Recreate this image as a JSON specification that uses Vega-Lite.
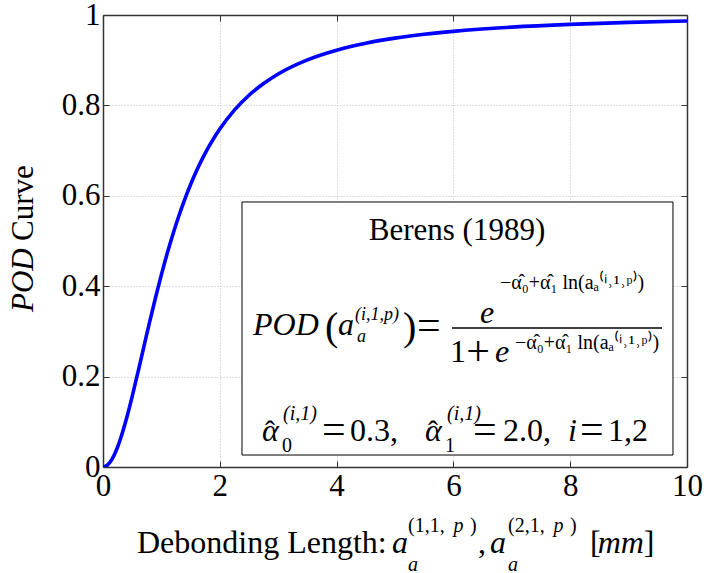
{
  "$schema": "https://vega.github.io/schema/vega-lite/v6.json",
  "width": 584,
  "height": 452,
  "autosize": {"type": "none"},
  "padding": {"left": 103, "top": 15, "right": 17, "bottom": 106},
  "background": "white",
  "config": {
    "view": {"stroke": null},
    "text": {"font": "Liberation Serif", "color": "black"},
    "axis": {
      "domainColor": "#333333", "domainWidth": 1.5,
      "tickColor": "#333333", "tickWidth": 1, "tickSize": -6,
      "labelFont": "Liberation Serif", "labelFontSize": 30, "labelColor": "black",
      "labelFlush": false, "labelOverlap": false,
      "gridColor": "#bdbdbd", "gridDash": [1, 2], "gridWidth": 1
    }
  },
  "datasets": {
    "curve": [
      {"x": 0, "y": 0}, {"x": 0.05, "y": 0.00185}, {"x": 0.1, "y": 0.00735}, {"x": 0.15, "y": 0.0164},
      {"x": 0.2, "y": 0.02878}, {"x": 0.25, "y": 0.04425}, {"x": 0.3, "y": 0.0625}, {"x": 0.4, "y": 0.10597},
      {"x": 0.5, "y": 0.15626}, {"x": 0.6, "y": 0.21057}, {"x": 0.7, "y": 0.26633}, {"x": 0.8, "y": 0.32163},
      {"x": 0.9, "y": 0.37503}, {"x": 1.0, "y": 0.42556}, {"x": 1.1, "y": 0.47268}, {"x": 1.2, "y": 0.5161},
      {"x": 1.3, "y": 0.55595}, {"x": 1.4, "y": 0.59217}, {"x": 1.5, "y": 0.62502}, {"x": 1.6, "y": 0.65474},
      {"x": 1.7, "y": 0.68163}, {"x": 1.8, "y": 0.7059}, {"x": 1.9, "y": 0.72785}, {"x": 2.0, "y": 0.74768},
      {"x": 2.25, "y": 0.78949}, {"x": 2.5, "y": 0.82239}, {"x": 2.75, "y": 0.84854}, {"x": 3.0, "y": 0.86958},
      {"x": 3.5, "y": 0.90075}, {"x": 4.0, "y": 0.9222}, {"x": 4.5, "y": 0.93751}, {"x": 5.0, "y": 0.94878},
      {"x": 5.5, "y": 0.95728}, {"x": 6.0, "y": 0.96386}, {"x": 7.0, "y": 0.97319}, {"x": 8.0, "y": 0.97934},
      {"x": 9.0, "y": 0.98361}, {"x": 10.0, "y": 0.98668}
    ],
    "box": [{"x": 2.38, "x2": 9.76, "y": 0.0265, "y2": 0.5863}],
    "frac": [{"x": 5.976, "x2": 9.572, "y": 0.3075}],
    "berens": [{"x": 6.062, "y": 0.502, "t": "Berens (1989)"}],
    "bigItalic": [
      {"x": 2.568, "y": 0.292, "t": "POD"},
      {"x": 4.024, "y": 0.292, "t": "a"},
      {"x": 6.455, "y": 0.3186, "t": "e"},
      {"x": 6.712, "y": 0.2323, "t": "e"},
      {"x": 2.723, "y": 0.0575, "t": "α"},
      {"x": 5.514, "y": 0.0575, "t": "α"},
      {"x": 7.962, "y": 0.0575, "t": "i"}
    ],
    "hats": [
      {"x": 2.86, "y": 0.0575, "t": "ˆ"},
      {"x": 5.65, "y": 0.0575, "t": "ˆ"}
    ],
    "bigNormal": [
      {"x": 5.942, "y": 0.2323, "t": "1"},
      {"x": 4.229, "y": 0.0575, "t": "0.3,"},
      {"x": 6.849, "y": 0.0575, "t": "2.0,"},
      {"x": 8.647, "y": 0.0575, "t": "1,2"}
    ],
    "eqSigns": [
      {"x": 5.377, "y": 0.2832, "t": "="},
      {"x": 3.75, "y": 0.0531, "t": "="},
      {"x": 6.336, "y": 0.0531, "t": "="},
      {"x": 8.168, "y": 0.0531, "t": "="},
      {"x": 6.22, "y": 0.225, "t": "+"}
    ],
    "paren": [
      {"x": 3.801, "y": 0.281, "t": "("},
      {"x": 5.137, "y": 0.281, "t": ")"}
    ],
    "supFormula": [
      {"x": 4.315, "y": 0.3252, "t": "(i,1,p)"},
      {"x": 4.349, "y": 0.2765, "t": "a"}
    ],
    "exponent": [
      {"x": 6.798, "y": 0.394, "t": "−α̂₀+α̂₁ ln(aₐ⁽ⁱ˒¹˒ᵖ⁾)"},
      {"x": 7.055, "y": 0.262, "t": "−α̂₀+α̂₁ ln(aₐ⁽ⁱ˒¹˒ᵖ⁾)"}
    ],
    "bottomSub": [
      {"x": 3.065, "y": 0.0332, "t": "0"},
      {"x": 5.856, "y": 0.0332, "t": "1"}
    ],
    "bottomSup": [
      {"x": 3.082, "y": 0.104, "t": "(i,1)"},
      {"x": 5.89, "y": 0.104, "t": "(i,1)"}
    ],
    "xTitleNormal": [
      {"x": 0.582, "y": -0.1903, "t": "Debonding Length:"},
      {"x": 6.421, "y": -0.1903, "t": ","},
      {"x": 8.339, "y": -0.1903, "t": "["},
      {"x": 9.26, "y": -0.1903, "t": "]"}
    ],
    "xTitleItalic": [
      {"x": 4.949, "y": -0.1903, "t": "a"},
      {"x": 6.627, "y": -0.1903, "t": "a"},
      {"x": 8.47, "y": -0.1903, "t": "mm"}
    ],
    "xTitleSmallNormal": [
      {"x": 5.223, "y": -0.1438, "t": "(1,1,"},
      {"x": 6.284, "y": -0.1438, "t": ")"},
      {"x": 6.935, "y": -0.1438, "t": "(2,1,"},
      {"x": 7.997, "y": -0.1438, "t": ")"}
    ],
    "xTitleSmallItalic": [
      {"x": 6.0, "y": -0.1438, "t": "p"},
      {"x": 7.712, "y": -0.1438, "t": "p"},
      {"x": 5.223, "y": -0.2301, "t": "a"},
      {"x": 6.935, "y": -0.2301, "t": "a"}
    ],
    "yTitleItalic": [{"x": -1.199, "y": 0.343, "t": "POD"}],
    "yTitleNormal": [{"x": -1.199, "y": 0.5, "t": "Curve"}]
  },
  "resolve": {"axis": {"x": "independent", "y": "independent"}},
  "layer": [
    {
      "data": {"name": "curve"},
      "mark": {"type": "line", "color": "#0000ff", "strokeWidth": 3.6, "interpolate": "monotone", "clip": true},
      "encoding": {
        "x": {"field": "x", "type": "quantitative", "scale": {"domain": [0, 10], "nice": false},
          "axis": {"orient": "bottom", "values": [0, 2, 4, 6, 8, 10], "format": "d", "grid": true, "title": null, "labelPadding": 10, "labelFont": "Liberation Serif", "labelFontSize": 31}},
        "y": {"field": "y", "type": "quantitative", "scale": {"domain": [0, 1], "nice": false},
          "axis": {"orient": "left", "values": [0, 0.2, 0.4, 0.6, 0.8, 1], "format": "~g", "grid": true, "title": null, "labelPadding": 9, "labelFont": "Liberation Serif", "labelFontSize": 31}}
      }
    },
    {
      "data": {"name": "box"},
      "mark": {"type": "rect", "fill": "white", "stroke": "black", "strokeWidth": 1},
      "encoding": {
        "x": {"field": "x", "type": "quantitative", "scale": {"domain": [0, 10], "nice": false},
          "axis": {"orient": "top", "values": [0, 2, 4, 6, 8, 10], "labels": false, "grid": false, "title": null}},
        "x2": {"field": "x2"},
        "y": {"field": "y", "type": "quantitative", "scale": {"domain": [0, 1], "nice": false},
          "axis": {"orient": "right", "values": [0, 0.2, 0.4, 0.6, 0.8, 1], "labels": false, "grid": false, "title": null}},
        "y2": {"field": "y2"}
      }
    },
    {
      "data": {"name": "frac"},
      "mark": {"type": "rule", "color": "black", "strokeWidth": 1.5},
      "encoding": {
        "x": {"field": "x", "type": "quantitative", "scale": {"domain": [0, 10], "nice": false}, "axis": null},
        "x2": {"field": "x2"},
        "y": {"field": "y", "type": "quantitative", "scale": {"domain": [0, 1], "nice": false}, "axis": null}
      }
    },
    {
      "data": {"name": "berens"},
      "mark": {"type": "text", "font": "Liberation Serif", "fontSize": 31, "align": "center", "baseline": "alphabetic"},
      "encoding": {
        "x": {"field": "x", "type": "quantitative", "scale": {"domain": [0, 10], "nice": false}, "axis": null},
        "y": {"field": "y", "type": "quantitative", "scale": {"domain": [0, 1], "nice": false}, "axis": null},
        "text": {"field": "t"}
      }
    },
    {
      "data": {"name": "bigItalic"},
      "mark": {"type": "text", "font": "Liberation Serif", "fontSize": 32, "fontStyle": "italic", "align": "left", "baseline": "alphabetic"},
      "encoding": {
        "x": {"field": "x", "type": "quantitative", "scale": {"domain": [0, 10], "nice": false}, "axis": null},
        "y": {"field": "y", "type": "quantitative", "scale": {"domain": [0, 1], "nice": false}, "axis": null},
        "text": {"field": "t"}
      }
    },
    {
      "data": {"name": "hats"},
      "mark": {"type": "text", "font": "Liberation Serif", "fontSize": 30, "align": "center", "baseline": "alphabetic"},
      "encoding": {
        "x": {"field": "x", "type": "quantitative", "scale": {"domain": [0, 10], "nice": false}, "axis": null},
        "y": {"field": "y", "type": "quantitative", "scale": {"domain": [0, 1], "nice": false}, "axis": null},
        "text": {"field": "t"}
      }
    },
    {
      "data": {"name": "bigNormal"},
      "mark": {"type": "text", "font": "Liberation Serif", "fontSize": 32, "align": "left", "baseline": "alphabetic"},
      "encoding": {
        "x": {"field": "x", "type": "quantitative", "scale": {"domain": [0, 10], "nice": false}, "axis": null},
        "y": {"field": "y", "type": "quantitative", "scale": {"domain": [0, 1], "nice": false}, "axis": null},
        "text": {"field": "t"}
      }
    },
    {
      "data": {"name": "eqSigns"},
      "mark": {"type": "text", "font": "Liberation Serif", "fontSize": 42, "align": "left", "baseline": "alphabetic"},
      "encoding": {
        "x": {"field": "x", "type": "quantitative", "scale": {"domain": [0, 10], "nice": false}, "axis": null},
        "y": {"field": "y", "type": "quantitative", "scale": {"domain": [0, 1], "nice": false}, "axis": null},
        "text": {"field": "t"}
      }
    },
    {
      "data": {"name": "paren"},
      "mark": {"type": "text", "font": "Liberation Serif", "fontSize": 40, "align": "left", "baseline": "alphabetic"},
      "encoding": {
        "x": {"field": "x", "type": "quantitative", "scale": {"domain": [0, 10], "nice": false}, "axis": null},
        "y": {"field": "y", "type": "quantitative", "scale": {"domain": [0, 1], "nice": false}, "axis": null},
        "text": {"field": "t"}
      }
    },
    {
      "data": {"name": "supFormula"},
      "mark": {"type": "text", "font": "Liberation Serif", "fontSize": 18, "fontStyle": "italic", "align": "left", "baseline": "alphabetic"},
      "encoding": {
        "x": {"field": "x", "type": "quantitative", "scale": {"domain": [0, 10], "nice": false}, "axis": null},
        "y": {"field": "y", "type": "quantitative", "scale": {"domain": [0, 1], "nice": false}, "axis": null},
        "text": {"field": "t"}
      }
    },
    {
      "data": {"name": "exponent"},
      "mark": {"type": "text", "font": "Liberation Serif", "fontSize": 20, "align": "left", "baseline": "alphabetic"},
      "encoding": {
        "x": {"field": "x", "type": "quantitative", "scale": {"domain": [0, 10], "nice": false}, "axis": null},
        "y": {"field": "y", "type": "quantitative", "scale": {"domain": [0, 1], "nice": false}, "axis": null},
        "text": {"field": "t"}
      }
    },
    {
      "data": {"name": "bottomSub"},
      "mark": {"type": "text", "font": "Liberation Serif", "fontSize": 20, "align": "left", "baseline": "alphabetic"},
      "encoding": {
        "x": {"field": "x", "type": "quantitative", "scale": {"domain": [0, 10], "nice": false}, "axis": null},
        "y": {"field": "y", "type": "quantitative", "scale": {"domain": [0, 1], "nice": false}, "axis": null},
        "text": {"field": "t"}
      }
    },
    {
      "data": {"name": "bottomSup"},
      "mark": {"type": "text", "font": "Liberation Serif", "fontSize": 20, "fontStyle": "italic", "align": "left", "baseline": "alphabetic"},
      "encoding": {
        "x": {"field": "x", "type": "quantitative", "scale": {"domain": [0, 10], "nice": false}, "axis": null},
        "y": {"field": "y", "type": "quantitative", "scale": {"domain": [0, 1], "nice": false}, "axis": null},
        "text": {"field": "t"}
      }
    },
    {
      "data": {"name": "xTitleNormal"},
      "mark": {"type": "text", "font": "Liberation Serif", "fontSize": 32, "align": "left", "baseline": "alphabetic"},
      "encoding": {
        "x": {"field": "x", "type": "quantitative", "scale": {"domain": [0, 10], "nice": false}, "axis": null},
        "y": {"field": "y", "type": "quantitative", "scale": {"domain": [0, 1], "nice": false}, "axis": null},
        "text": {"field": "t"}
      }
    },
    {
      "data": {"name": "xTitleItalic"},
      "mark": {"type": "text", "font": "Liberation Serif", "fontSize": 32, "fontStyle": "italic", "align": "left", "baseline": "alphabetic"},
      "encoding": {
        "x": {"field": "x", "type": "quantitative", "scale": {"domain": [0, 10], "nice": false}, "axis": null},
        "y": {"field": "y", "type": "quantitative", "scale": {"domain": [0, 1], "nice": false}, "axis": null},
        "text": {"field": "t"}
      }
    },
    {
      "data": {"name": "xTitleSmallNormal"},
      "mark": {"type": "text", "font": "Liberation Serif", "fontSize": 20, "align": "left", "baseline": "alphabetic"},
      "encoding": {
        "x": {"field": "x", "type": "quantitative", "scale": {"domain": [0, 10], "nice": false}, "axis": null},
        "y": {"field": "y", "type": "quantitative", "scale": {"domain": [0, 1], "nice": false}, "axis": null},
        "text": {"field": "t"}
      }
    },
    {
      "data": {"name": "xTitleSmallItalic"},
      "mark": {"type": "text", "font": "Liberation Serif", "fontSize": 20, "fontStyle": "italic", "align": "left", "baseline": "alphabetic"},
      "encoding": {
        "x": {"field": "x", "type": "quantitative", "scale": {"domain": [0, 10], "nice": false}, "axis": null},
        "y": {"field": "y", "type": "quantitative", "scale": {"domain": [0, 1], "nice": false}, "axis": null},
        "text": {"field": "t"}
      }
    },
    {
      "data": {"name": "yTitleItalic"},
      "mark": {"type": "text", "font": "Liberation Serif", "fontSize": 31, "fontStyle": "italic", "angle": 270, "align": "left", "baseline": "alphabetic"},
      "encoding": {
        "x": {"field": "x", "type": "quantitative", "scale": {"domain": [0, 10], "nice": false}, "axis": null},
        "y": {"field": "y", "type": "quantitative", "scale": {"domain": [0, 1], "nice": false}, "axis": null},
        "text": {"field": "t"}
      }
    },
    {
      "data": {"name": "yTitleNormal"},
      "mark": {"type": "text", "font": "Liberation Serif", "fontSize": 31, "angle": 270, "align": "left", "baseline": "alphabetic"},
      "encoding": {
        "x": {"field": "x", "type": "quantitative", "scale": {"domain": [0, 10], "nice": false}, "axis": null},
        "y": {"field": "y", "type": "quantitative", "scale": {"domain": [0, 1], "nice": false}, "axis": null},
        "text": {"field": "t"}
      }
    }
  ]
}
